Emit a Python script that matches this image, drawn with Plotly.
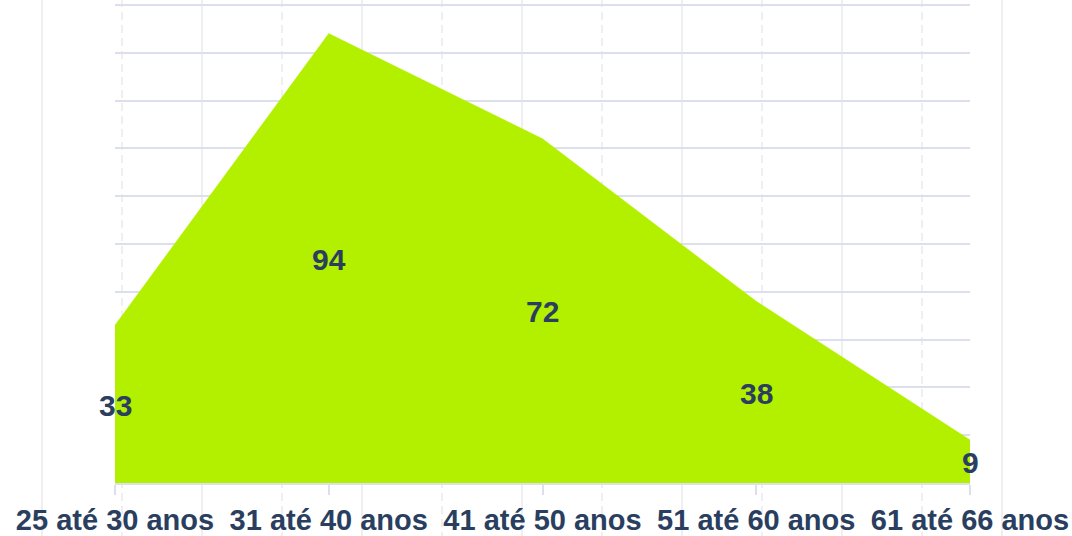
import plotly.graph_objects as go

categories = ["25 até 30 anos", "31 até 40 anos", "41 até 50 anos", "51 até 60 anos", "61 até 66 anos"]
values = [33, 94, 72, 38, 9]
label_text = [str(v) for v in values]
label_y = [v / 2 for v in values]

FILL = "rgb(178,240,0)"
TEXT = "#2a3f5f"
GRID = "#dcdfee"
VGRID = "#efeff2"

W, H = 1072, 536
ML, MR, MT, MB = 115, 102, 3, 53
pw = W - ML - MR
ph = H - MT - MB

fig = go.Figure()
fig.add_trace(go.Scatter(
    x=categories, y=values, mode="lines", fill="tozeroy",
    fillcolor=FILL, line=dict(color=FILL, width=0.5), hoverinfo="skip",
    showlegend=False,
))

annotations = [
    dict(x=c, y=y, text=t, showarrow=False, xanchor="center", yanchor="middle",
         yshift=-1, font=dict(family="Arial", size=30, color=TEXT, weight="bold"))
    for c, y, t in zip(categories, label_y, label_text)
]

# decorative background vertical lines across the whole page
shapes = []
for k in range(13):
    px = 42 + 80 * k
    xp = (px - ML) / pw
    shapes.append(dict(
        type="line", xref="paper", yref="paper", x0=xp, x1=xp,
        y0=-0.2, y1=1.1, layer="below",
        line=dict(color=VGRID, width=2, dash="solid" if k % 2 == 0 else "8px,5px"),
    ))

fig.update_layout(
    width=W, height=H,
    margin=dict(l=ML, r=MR, t=MT, b=MB, autoexpand=False),
    paper_bgcolor="white", plot_bgcolor="rgba(0,0,0,0)",
    shapes=shapes,
    annotations=annotations,
    showlegend=False,
    xaxis=dict(
        type="category", range=[0, len(categories) - 1], showgrid=False,
        automargin=False,
        showline=True, linecolor=GRID, linewidth=2,
        ticks="outside", ticklen=10, tickwidth=2, tickcolor=GRID,
        tickfont=dict(family="Arial", size=29, color=TEXT, weight="bold"),
        zeroline=False,
    ),
    yaxis=dict(
        range=[0, 100.4], dtick=10, showticklabels=False, showgrid=True,
        automargin=False,
        gridcolor=GRID, gridwidth=2, zeroline=False, ticks="",
    ),
)

fig.write_html(
    "out.html",
    config={"displayModeBar": False},
    post_script="document.body.style.margin='0';document.body.style.overflow='hidden';",
)
